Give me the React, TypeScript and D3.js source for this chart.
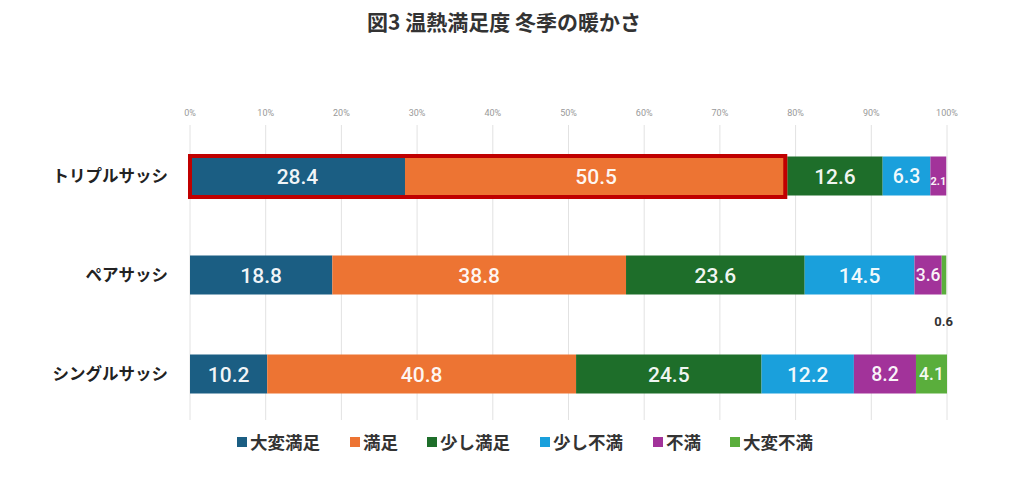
import * as d3 from 'd3';

const categories = ['トリプルサッシ', 'ペアサッシ', 'シングルサッシ'];
const seriesNames = ['大変満足', '満足', '少し満足', '少し不満', '不満', '大変不満'];
// one row per category, one column per series (%)
const tripleValues = [28.4, 50.5, 12.6, 6.3, 2.1, 0];
const pairValues = [18.8, 38.8, 23.6, 14.5, 3.6, 0.6];
const singleValues = [10.2, 40.8, 24.5, 12.2, 8.2, 4.1];
const tickValues = [0, 10, 20, 30, 40, 50, 60, 70, 80, 90, 100];

const rows = [tripleValues, pairValues, singleValues];
const COLORS = ['#1b5e83', '#ed7433', '#1e6e2a', '#1aa0dc', '#a2339a', '#5aae3c'];

const W = 1024;
const H = 477;
const FONT = '"Noto Sans CJK JP", "Noto Sans", sans-serif';
const NUM_FONT = 'Roboto, "Noto Sans", sans-serif';

export default function App() {
  const x = d3.scaleLinear().domain([0, 100]).range([190, 947]);
  const y = d3.scalePoint<string>().domain(categories).range([176, 374]);
  const barH = 39;

  const stacked = rows.map((vals, ri) => {
    let acc = 0;
    return vals.map((v, si) => {
      const s = { cat: categories[ri], series: si, x0: acc, x1: acc + v, v };
      acc += v;
      return s;
    });
  });

  // smaller segments get smaller labels
  const labelSize = (v: number) => (v >= 10 ? 21 : v >= 5 ? 19.5 : v >= 3 ? 17.5 : 11);

  // legend layout
  let lx = 237;
  const legend = seriesNames.map((name, i) => {
    const item = { name, i, x: lx };
    lx += 14 + name.length * 18 + 27;
    return item;
  });

  const tripleY = y(categories[0]) as number;
  const highlightEnd = tripleValues[0] + tripleValues[1];

  return (
    <svg width={W} height={H} style={{ display: 'block', margin: -8 }}>
      <rect width={W} height={H} fill="#fff" />
      <text x={504} y={30} textAnchor="middle" fontFamily={FONT} fontSize={21} fontWeight={700} fill="#333">
        図3 温熱満足度 冬季の暖かさ
      </text>

      {tickValues.map((t) => (
        <g key={t}>
          <line x1={x(t)} x2={x(t)} y1={125} y2={420} stroke="#e2e2e2" strokeWidth={1} />
          <text x={x(t)} y={116} textAnchor="middle" fontFamily={NUM_FONT} fontSize={9} fill="#999">
            {t}%
          </text>
        </g>
      ))}

      {categories.map((c) => (
        <text key={c} x={168} y={(y(c) as number) + 6} textAnchor="end" fontFamily={FONT} fontSize={16.5} fontWeight={700} fill="#222">
          {c}
        </text>
      ))}

      {stacked.map((row, ri) =>
        row.map((s) =>
          s.v > 0 ? (
            <rect
              key={`${ri}-${s.series}`}
              x={x(s.x0)}
              y={(y(s.cat) as number) - barH / 2}
              width={x(s.x1) - x(s.x0)}
              height={barH}
              fill={COLORS[s.series]}
            />
          ) : null
        )
      )}

      {stacked.map((row, ri) =>
        row.map((s) => {
          if (s.v <= 0) return null;
          const cy = y(s.cat) as number;
          if (s.v < 1) {
            return (
              <text key={`l${ri}-${s.series}`} x={x(s.x0) + 2} y={cy + 51} textAnchor="middle" fontFamily={NUM_FONT} fontSize={13} fontWeight={700} fill="#333">
                {s.v}
              </text>
            );
          }
          const fs = labelSize(s.v);
          return (
            <text
              key={`l${ri}-${s.series}`}
              x={(x(s.x0) + x(s.x1)) / 2}
              y={cy + (s.v < 3 ? 9 : fs * 0.36)}
              textAnchor="middle"
              fontFamily={NUM_FONT}
              fontSize={fs}
              fontWeight={s.v < 3 ? 700 : 500}
              fill="#fff"
              fillOpacity={0.95}
            >
              {s.v}
            </text>
          );
        })
      )}

      <rect
        x={x(0)}
        y={tripleY - 20}
        width={x(highlightEnd) - x(0) - 2}
        height={41}
        fill="none"
        stroke="#c00000"
        strokeWidth={4}
      />

      {legend.map((l) => (
        <g key={l.name}>
          <rect x={l.x} y={437} width={10} height={10} fill={COLORS[l.i]} />
          <text x={l.x + 13} y={448.5} fontFamily={FONT} fontSize={17.5} fontWeight={700} fill="#333">
            {l.name}
          </text>
        </g>
      ))}
    </svg>
  );
}
